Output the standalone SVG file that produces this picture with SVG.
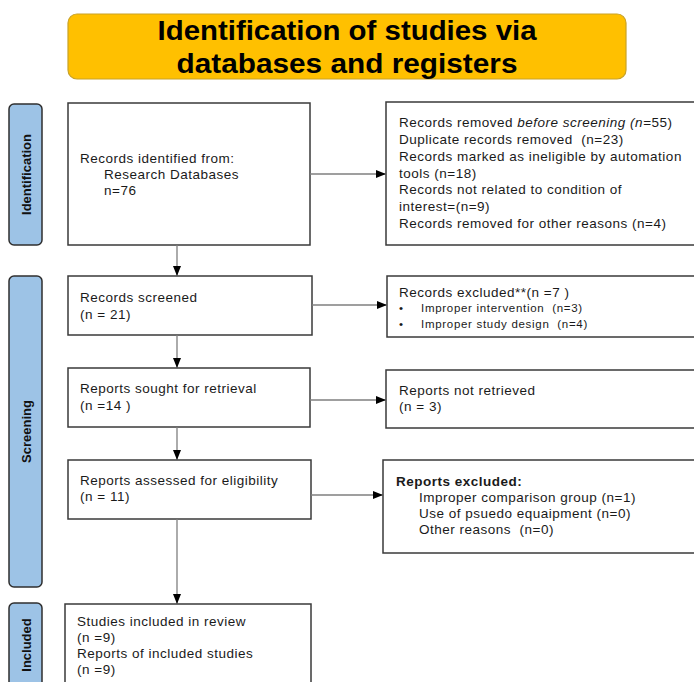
<svg xmlns="http://www.w3.org/2000/svg" width="694" height="682" viewBox="0 0 694 682">
<defs>
<marker id="ah" markerWidth="10" markerHeight="8" refX="9" refY="4" orient="auto" markerUnits="userSpaceOnUse">
<path d="M0,0 L10,4 L0,8 Z" fill="#000"/>
</marker>
<style>
.box{fill:#fff;stroke:#3a3a3a;stroke-width:1.5}
.side{fill:#9DC3E6;stroke:#2f2f2f;stroke-width:1.5}
.t{font-family:"Liberation Sans",Arial,sans-serif;font-size:13.5px;letter-spacing:0.5px;fill:#1a1a1a;white-space:pre}
.s{font-family:"Liberation Sans",Arial,sans-serif;font-size:11.5px;letter-spacing:0.7px;fill:#1a1a1a;white-space:pre}
.sl{font-family:"Liberation Sans",Arial,sans-serif;font-size:13px;font-weight:bold;fill:#111;text-anchor:middle}
.c{stroke:#7f7f7f;stroke-width:1.3;fill:none;marker-end:url(#ah)}
</style>
</defs>
<rect width="694" height="682" fill="#fff"/>
<g id="title">
<rect x="68" y="14" width="558" height="65" rx="9" fill="#FFC000" stroke="#C9A227" stroke-width="1.2"/>
<text x="347" y="40" text-anchor="middle" font-family="'Liberation Sans',Arial,sans-serif" font-size="27" font-weight="bold" textLength="379" lengthAdjust="spacingAndGlyphs">Identification of studies via</text>
<text x="347" y="73" text-anchor="middle" font-family="'Liberation Sans',Arial,sans-serif" font-size="27" font-weight="bold" textLength="341" lengthAdjust="spacingAndGlyphs">databases and registers</text>
</g>
<g id="side-identification">
<rect class="side" x="9" y="104" width="33" height="141" rx="5"/>
<text class="sl" transform="translate(31,174.5) rotate(-90)">Identification</text>
</g>
<g id="side-screening">
<rect class="side" x="9" y="276" width="33" height="311" rx="5"/>
<text class="sl" transform="translate(31,431.5) rotate(-90)">Screening</text>
</g>
<g id="side-included">
<rect class="side" x="9" y="603" width="33" height="90" rx="5"/>
<text class="sl" transform="translate(31,645) rotate(-90)">Included</text>
</g>
<g id="identified">
<rect class="box" x="68" y="103" width="242" height="142"/>
<text class="t" x="80" y="163">Records identified from:</text>
<text class="t" x="104" y="179">Research Databases</text>
<text class="t" x="104" y="195">n=76</text>
</g>
<g id="removed">
<rect class="box" x="386" y="102" width="320" height="143"/>
<text class="t" x="399" y="127">Records removed <tspan font-style="italic">before screening (n</tspan>=55)</text>
<text class="t" x="399" y="144">Duplicate records removed  (n=23)</text>
<text class="t" x="399" y="161">Records marked as ineligible by automation</text>
<text class="t" x="399" y="178">tools (n=18)</text>
<text class="t" x="399" y="194">Records not related to condition of</text>
<text class="t" x="399" y="211">interest=(n=9)</text>
<text class="t" x="399" y="228">Records removed for other reasons (n=4)</text>
</g>
<g id="screened">
<rect class="box" x="68" y="276" width="244" height="59"/>
<text class="t" x="80" y="302">Records screened</text>
<text class="t" x="80" y="319">(n = 21)</text>
</g>
<g id="excluded">
<rect class="box" x="387" y="276" width="320" height="61"/>
<text class="t" x="399" y="297">Records excluded**(n =7 )</text>
<text class="s" x="399" y="312">•</text>
<text class="s" x="421" y="312">Improper intervention  (n=3)</text>
<text class="s" x="399" y="328">•</text>
<text class="s" x="421" y="328">Improper study design  (n=4)</text>
</g>
<g id="sought">
<rect class="box" x="68" y="368" width="242" height="59"/>
<text class="t" x="80" y="393">Reports sought for retrieval</text>
<text class="t" x="80" y="410">(n =14 )</text>
</g>
<g id="notretrieved">
<rect class="box" x="386" y="370" width="320" height="58"/>
<text class="t" x="399" y="395">Reports not retrieved</text>
<text class="t" x="399" y="411">(n = 3)</text>
</g>
<g id="assessed">
<rect class="box" x="68" y="460" width="243" height="59"/>
<text class="t" x="80" y="485">Reports assessed for eligibility</text>
<text class="t" x="80" y="501">(n = 11)</text>
</g>
<g id="reportsexcluded">
<rect class="box" x="383" y="460" width="323" height="93"/>
<text class="t" x="396" y="486" font-weight="bold" letter-spacing="0.2">Reports excluded:</text>
<text class="t" x="419" y="502">Improper comparison group (n=1)</text>
<text class="t" x="419" y="518">Use of psuedo equaipment (n=0)</text>
<text class="t" x="419" y="534">Other reasons  (n=0)</text>
</g>
<g id="included">
<rect class="box" x="65" y="604" width="246" height="90"/>
<text class="t" x="77" y="626">Studies included in review</text>
<text class="t" x="77" y="642">(n =9)</text>
<text class="t" x="77" y="658">Reports of included studies</text>
<text class="t" x="77" y="674">(n =9)</text>
</g>
<g id="connectors">
<line class="c" x1="310" y1="174" x2="385" y2="174"/>
<line class="c" x1="177" y1="245" x2="177" y2="275"/>
<line class="c" x1="312" y1="305" x2="386" y2="305"/>
<line class="c" x1="177" y1="335" x2="177" y2="367"/>
<line class="c" x1="310" y1="400" x2="385" y2="400"/>
<line class="c" x1="177" y1="427" x2="177" y2="459"/>
<line class="c" x1="311" y1="495" x2="382" y2="495"/>
<line class="c" x1="177" y1="519" x2="177" y2="603"/>
</g>
</svg>
